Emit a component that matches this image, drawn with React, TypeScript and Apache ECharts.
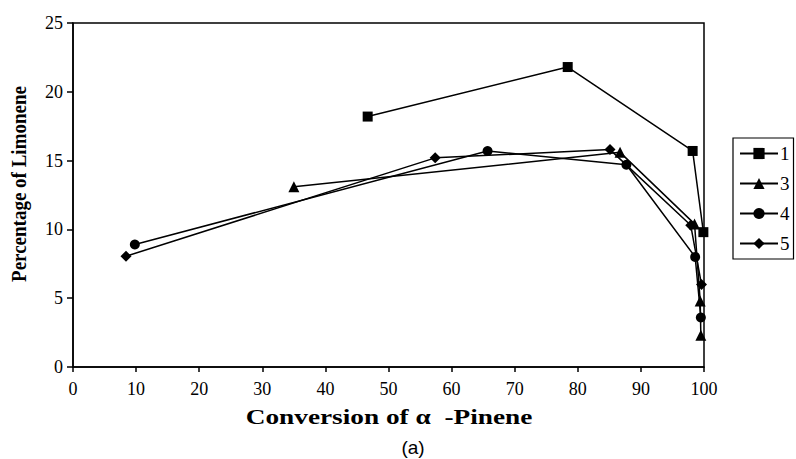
import React, { useEffect, useRef } from "react";
import * as echarts from "echarts";

const seriesNames = ["1", "3", "4", "5"];
const s1X = [46.7, 78.4, 98.2, 99.9];
const s1Y = [18.2, 21.8, 15.7, 9.8];
const s3X = [35.0, 86.7, 98.5, 99.4, 99.5];
const s3Y = [13.1, 15.6, 10.4, 4.8, 2.3];
const s4X = [9.8, 65.7, 87.7, 98.6, 99.5];
const s4Y = [8.9, 15.7, 14.7, 8.0, 3.6];
const s5X = [8.4, 57.4, 85.1, 97.9, 99.6];
const s5Y = [8.05, 15.2, 15.8, 10.3, 6.0];
const symbols = ["rect", "triangle", "circle", "diamond"];
const symbolSizes = [10, 11, 10, 11];

const xTitle = "Conversion of α  -Pinene";
const yTitle = "Percentage of Limonene";
const caption = "(a)";

const zip = (xs: number[], ys: number[]) => xs.map((x, i) => [x, ys[i]]);

export default function App() {
  const ref = useRef<HTMLDivElement>(null);
  useEffect(() => {
    if (!ref.current) return;
    const chart = echarts.init(ref.current, null, { renderer: "svg" });
    const serif = "Liberation Serif, Times New Roman, serif";
    const data = [zip(s1X, s1Y), zip(s3X, s3Y), zip(s4X, s4Y), zip(s5X, s5Y)];
    chart.setOption({
      animation: false,
      backgroundColor: "#fff",
      grid: {
        left: 73,
        right: 92,
        top: 23,
        bottom: 92,
        show: true,
        borderColor: "#000",
        borderWidth: 1.5,
      },
      legend: {
        orient: "vertical",
        left: 733,
        top: 138,
        data: seriesNames,
        itemWidth: 38,
        itemHeight: 14,
        itemGap: 11,
        padding: [6, 4, 6, 6],
        borderColor: "#000",
        borderWidth: 1.2,
        backgroundColor: "#fff",
        textStyle: { fontFamily: serif, fontSize: 19, color: "#000", padding: [0, 0, 0, -3] },
      },
      xAxis: {
        type: "value",
        min: 0,
        max: 100,
        interval: 10,
        axisLine: { show: true, lineStyle: { color: "#000", width: 1.5 } },
        axisTick: { show: true, length: 5, inside: false, lineStyle: { color: "#000", width: 1.5 } },
        splitLine: { show: false },
        axisLabel: { fontFamily: serif, fontSize: 18, color: "#000", margin: 13 },
      },
      yAxis: {
        type: "value",
        min: 0,
        max: 25,
        interval: 5,
        axisLine: { show: true, lineStyle: { color: "#000", width: 1.5 } },
        axisTick: { show: true, length: 6, inside: false, lineStyle: { color: "#000", width: 1.5 } },
        splitLine: { show: false },
        axisLabel: { fontFamily: serif, fontSize: 18, color: "#000", margin: 10 },
      },
      series: seriesNames.map((name, i) => ({
        name,
        type: "line",
        data: data[i],
        symbol: symbols[i],
        symbolSize: symbolSizes[i],
        showAllSymbol: true,
        lineStyle: { color: "#000", width: 1.5 },
        itemStyle: { color: "#000", borderWidth: 0 },
        emphasis: { disabled: true },
      })),
      graphic: [
        {
          type: "text",
          x: 389,
          y: 417,
          scaleX: 1.3,
          style: {
            text: xTitle,
            fontFamily: serif,
            fontWeight: "bold",
            fontSize: 21,
            fill: "#000",
            align: "center",
            verticalAlign: "middle",
          },
        },
        {
          type: "text",
          x: 19,
          y: 184,
          rotation: Math.PI / 2,
          scaleY: 1.15,
          style: {
            text: yTitle,
            fontFamily: serif,
            fontWeight: "bold",
            fontSize: 19,
            fill: "#000",
            align: "center",
            verticalAlign: "middle",
          },
        },
        {
          type: "text",
          x: 413,
          y: 447,
          style: {
            text: caption,
            fontFamily: "Liberation Sans, Arial, sans-serif",
            fontSize: 19,
            fill: "#000",
            align: "center",
            verticalAlign: "middle",
          },
        },
      ],
    });
    return () => chart.dispose();
  }, []);
  return <div ref={ref} style={{ width: 796, height: 459, position: "absolute", left: 0, top: 0 }} />;
}
